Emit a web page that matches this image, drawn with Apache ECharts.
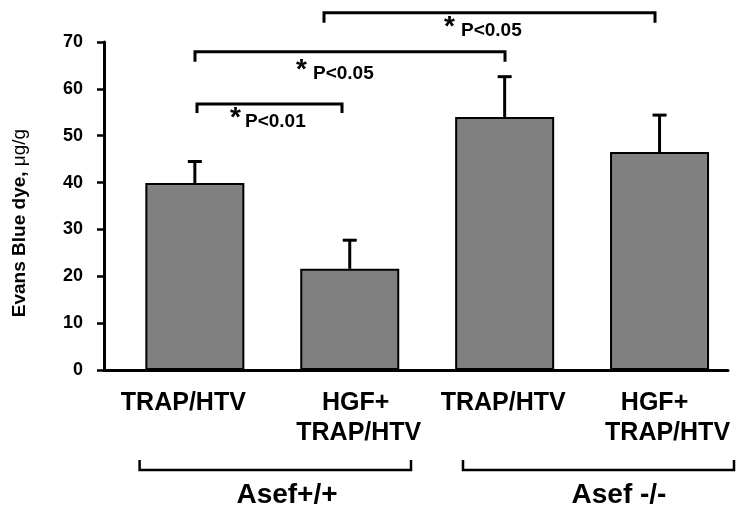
<!DOCTYPE html>
<html><head><meta charset="utf-8">
<script src="https://cdn.jsdelivr.net/npm/echarts@6/dist/echarts.min.js"></script>
<style>html,body{margin:0;padding:0;background:#fff}#c{width:737px;height:507px}</style>
</head><body><div id="c"></div>
<script>
// ---- data ----
const categories = ['TRAP/HTV', 'HGF+\nTRAP/HTV', 'TRAP/HTV', 'HGF+\nTRAP/HTV'];
const meanValues = [39.9, 21.6, 54.0, 46.5];
const errorValues = [4.6, 6.1, 8.6, 7.9];
const yTickValues = [0, 10, 20, 30, 40, 50, 60, 70];
const groupLabels = ['Asef+/+', 'Asef -/-'];
const sigLabels = ['P<0.01', 'P<0.05', 'P<0.05'];
const yTitle = 'Evans Blue dye, ';
const yUnit = 'μg/g';

// ---- layout ----
const FONT = '"Liberation Sans", Arial, Helvetica, sans-serif';
const labelShift = [[-11.5], [6, 9], [-1.5], [-5, 8]];
const rich = {};
labelShift.forEach((arr, i) => arr.forEach((d, j) => {
  rich['s' + i + '_' + j] = {
    fontFamily: FONT, fontWeight: 'bold', fontSize: 25, color: '#000', lineHeight: 30,
    padding: d < 0 ? [0, -2 * d, 0, 0] : [0, 0, 0, 2 * d]
  };
}));

const chart = echarts.init(document.getElementById('c'), null, { renderer: 'canvas' });
const TOP = 42, BOTTOM = 137;

const sigBrackets = [
  { x1: 197, x2: 342, y: 104, yEnd: 113, starX: 230, starY: 118, textX: 245, textY: 121.5 },
  { x1: 195, x2: 505, y: 51.7, yEnd: 61.7, starX: 296, starY: 70, textX: 313, textY: 74 },
  { x1: 324, x2: 655, y: 12.7, yEnd: 22.7, starX: 444, starY: 27, textX: 461, textY: 30.5 }
];
const groupBrackets = [
  { x1: 139.6, x2: 411, y: 470, yEnd: 460, cx: 287 },
  { x1: 463, x2: 734, y: 470, yEnd: 460, cx: 619 }
];

const graphics = [];
sigBrackets.forEach((b, k) => {
  graphics.push({ type: 'polyline', shape: { points: [[b.x1, b.yEnd], [b.x1, b.y], [b.x2, b.y], [b.x2, b.yEnd]] },
    style: { stroke: '#000', lineWidth: 3, fill: null } });
  graphics.push({ type: 'text', x: b.starX, y: b.starY,
    style: { text: '*', font: 'bold 28px ' + FONT, fill: '#000', align: 'left', verticalAlign: 'middle' } });
  graphics.push({ type: 'text', x: b.textX, y: b.textY,
    style: { text: sigLabels[k], font: 'bold 19px ' + FONT, fill: '#000', align: 'left', verticalAlign: 'middle' } });
});
groupBrackets.forEach((b, k) => {
  graphics.push({ type: 'polyline', shape: { points: [[b.x1, b.yEnd], [b.x1, b.y], [b.x2, b.y], [b.x2, b.yEnd]] },
    style: { stroke: '#000', lineWidth: 2.5, fill: null } });
  graphics.push({ type: 'text', x: b.cx, y: 495,
    style: { text: groupLabels[k], font: 'bold 28px ' + FONT, fill: '#000', align: 'center', verticalAlign: 'middle' } });
});
graphics.push({ type: 'text', x: 20, y: 223, rotation: Math.PI / 2,
  style: { text: '{a|' + yTitle + '}{b|' + yUnit + '}', align: 'center', verticalAlign: 'middle',
    rich: { a: { fontFamily: FONT, fontWeight: 'bold', fontSize: 19, color: '#000' },
            b: { fontFamily: FONT, fontWeight: 'normal', fontSize: 19, color: '#000' } } } });

chart.setOption({
  animation: false,
  backgroundColor: '#fff',
  grid: [
    { left: 104, right: 9, top: TOP, bottom: BOTTOM },
    { left: 117.4, width: 620.8, top: TOP, bottom: BOTTOM }
  ],
  xAxis: [
    { type: 'category', gridIndex: 0, data: categories,
      axisLine: { show: true, lineStyle: { color: '#000', width: 3 } },
      axisTick: { show: false }, axisLabel: { show: false }, splitLine: { show: false } },
    { type: 'category', gridIndex: 1, data: categories,
      axisLine: { show: false }, axisTick: { show: false }, splitLine: { show: false },
      axisLabel: { interval: 0, margin: 18, color: '#000',
        formatter: (value, index) => value.split('\n').map((line, j) => '{s' + index + '_' + j + '|' + line + '}').join('\n'),
        rich: rich } }
  ],
  yAxis: [
    { type: 'value', gridIndex: 0, min: yTickValues[0], max: yTickValues[yTickValues.length - 1], interval: 10,
      axisLine: { show: true, lineStyle: { color: '#000', width: 3 } },
      axisTick: { show: true, inside: false, length: 7, lineStyle: { color: '#000', width: 2.5 } },
      axisLabel: { color: '#000', fontFamily: FONT, fontWeight: 'bold', fontSize: 18, margin: 21 },
      splitLine: { show: false } },
    { type: 'value', gridIndex: 1, min: yTickValues[0], max: yTickValues[yTickValues.length - 1], interval: 10, show: false }
  ],
  series: [
    { type: 'bar', xAxisIndex: 1, yAxisIndex: 1, data: meanValues, barWidth: 99,
      itemStyle: { color: '#808080', borderColor: '#000', borderWidth: 2 } },
    { type: 'custom', xAxisIndex: 1, yAxisIndex: 1, z: 5,
      data: meanValues.map((m, i) => [i, m, errorValues[i]]),
      encode: { x: 0, y: 1 },
      renderItem: (params, api) => {
        const i = api.value(0), m = api.value(1), e = api.value(2);
        const base = api.coord([i, m]);
        const top = api.coord([i, m + e]);
        const hw = 7;
        return { type: 'group', children: [
          { type: 'line', shape: { x1: base[0], y1: base[1], x2: top[0], y2: top[1] }, style: { stroke: '#000', lineWidth: 3 } },
          { type: 'line', shape: { x1: top[0] - hw, y1: top[1], x2: top[0] + hw, y2: top[1] }, style: { stroke: '#000', lineWidth: 3 } }
        ] };
      } }
  ],
  graphic: graphics
});
</script></body></html>
